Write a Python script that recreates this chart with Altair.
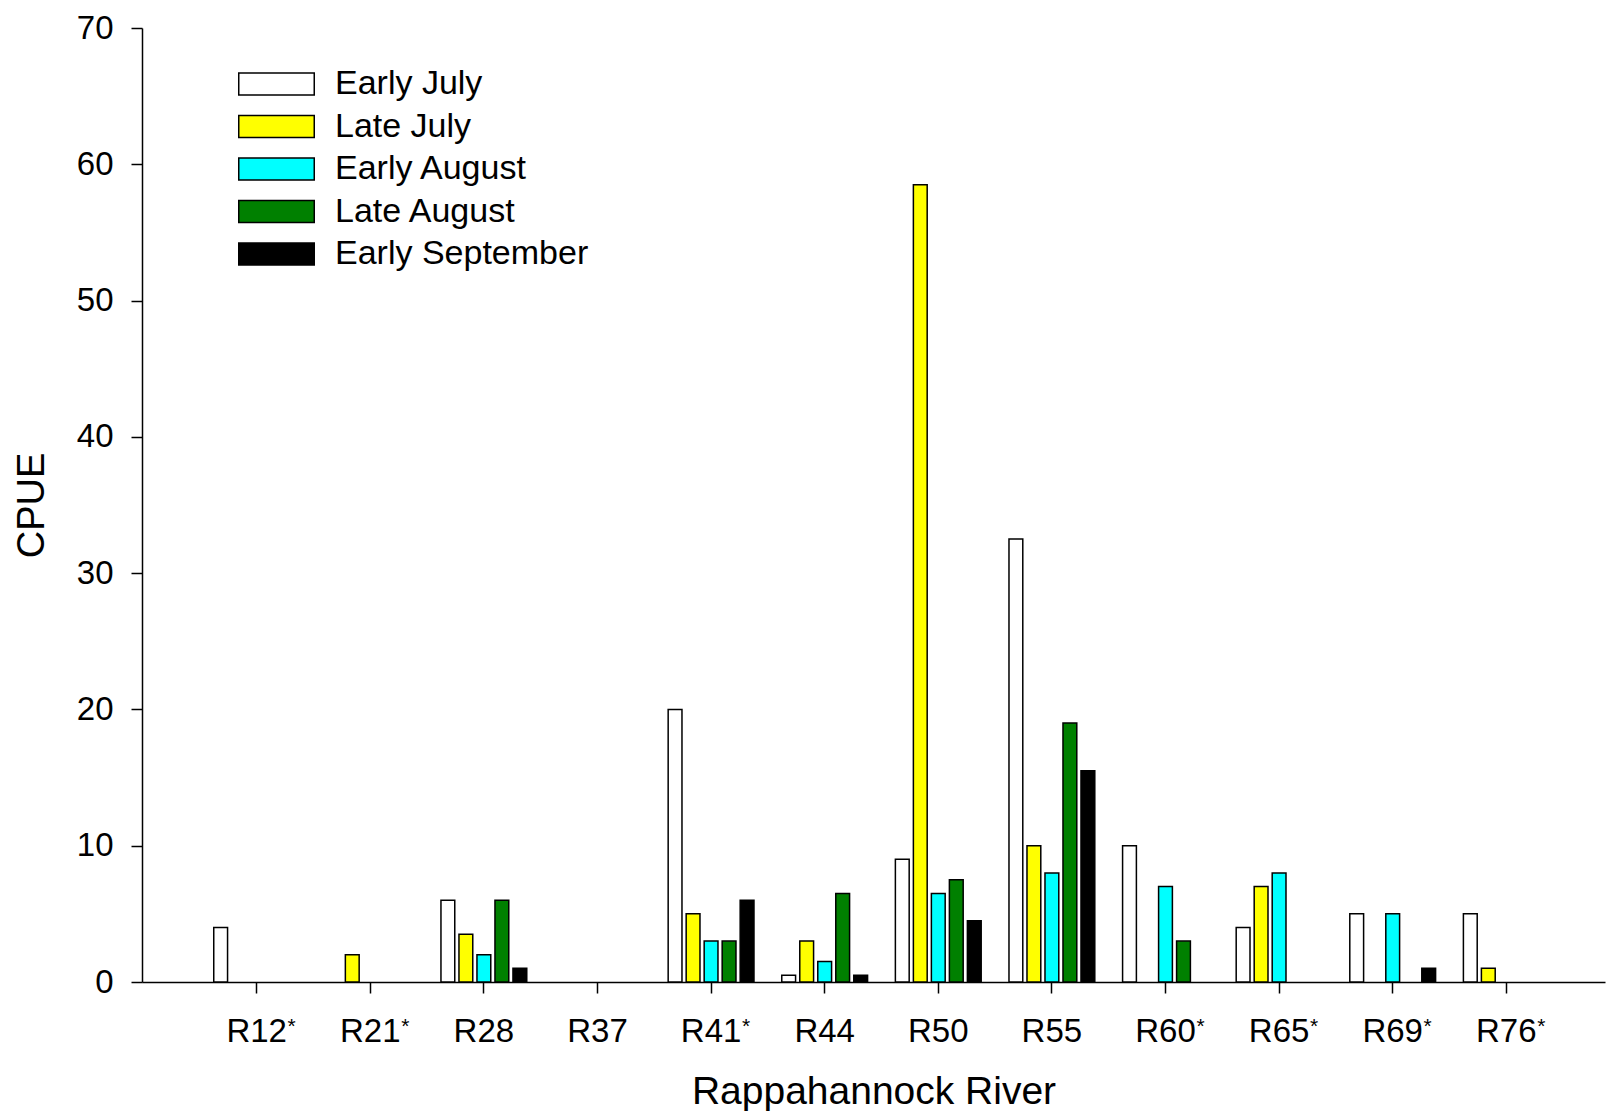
import altair as alt
import pandas as pd

categories = ["R12", "R21", "R28", "R37", "R41", "R44", "R50", "R55", "R60", "R65", "R69", "R76"]
starred = ["R12", "R21", "R41", "R60", "R65", "R69", "R76"]
series = ["Early July", "Late July", "Early August", "Late August", "Early September"]
colors = ["#FFFFFF", "#FFFF00", "#00FFFF", "#008000", "#000000"]

early_july = [4, 0, 6, 0, 20, 0.5, 9, 32.5, 10, 4, 5, 5]
late_july = [0, 2, 3.5, 0, 5, 3, 58.5, 10, 0, 7, 0, 1]
early_august = [0, 0, 2, 0, 3, 1.5, 6.5, 8, 7, 8, 5, 0]
late_august = [0, 0, 6, 0, 3, 6.5, 7.5, 19, 3, 0, 0, 0]
early_september = [0, 0, 1, 0, 6, 0.5, 4.5, 15.5, 0, 0, 1, 0]

values = [early_july, late_july, early_august, late_august, early_september]
rows = []
for s, vals in zip(series, values):
    for c, v in zip(categories, vals):
        if v > 0:
            rows.append({"cat": c, "series": s, "value": v})
df = pd.DataFrame(rows)
star_df = pd.DataFrame({"cat": starred, "mark": ["*"] * len(starred)})

W, H = 1463, 954
FONT = "Liberation Sans"

xscale = alt.Scale(domain=categories, paddingInner=0, paddingOuter=0.439, align=0.58, round=False)

bars = alt.Chart(df).mark_bar(stroke="black", strokeWidth=1.5, fillOpacity=1).encode(
    x=alt.X("cat:N", scale=xscale, sort=categories,
            axis=alt.Axis(title="Rappahannock River", labelAngle=0, labelFontSize=33,
                          labelPadding=22, tickSize=11, titleFontSize=39, titlePadding=24)),
    xOffset=alt.XOffset("series:N", sort=series,
                        scale=alt.Scale(domain=series, paddingInner=0.233, paddingOuter=0.772)),
    y=alt.Y("value:Q", scale=alt.Scale(domain=[0, 70], nice=False),
            axis=alt.Axis(title="CPUE", values=list(range(0, 71, 10)), labelFontSize=33,
                          labelPadding=18, tickSize=11, titleFontSize=38, titlePadding=25)),
    color=alt.Color("series:N", scale=alt.Scale(domain=series, range=colors),
                    legend=alt.Legend(title=None, orient="none", legendX=96, legendY=39,
                                      symbolType="M-1,-0.293L1,-0.293L1,0.293L-1,0.293Z",
                                      symbolSize=5700, symbolStrokeColor="black",
                                      symbolStrokeWidth=1.5, symbolOpacity=1,
                                      labelFontSize=34, labelFont=FONT, labelColor="black",
                                      labelLimit=0, labelOffset=20, clipHeight=34,
                                      rowPadding=8.5, padding=0)),
)

stars = alt.Chart(star_df).mark_text(fontSize=21, dx=35, baseline="top", align="center",
                                     color="black", font=FONT).encode(
    x=alt.X("cat:N", scale=xscale, sort=categories),
    y=alt.value(H + 34),
    text="mark:N",
)

chart = alt.layer(bars, stars).properties(
    width=W, height=H,
    autosize=alt.AutoSizeParams(type="none"),
    padding={"left": 134, "top": 20, "right": 4, "bottom": 129},
).configure(font=FONT).configure_view(stroke=None).configure_axis(
    grid=False, domainColor="black", domainWidth=1.5, tickColor="black", tickWidth=1.5,
    labelColor="black", titleColor="black", titleFontWeight="normal", labelFont=FONT,
    titleFont=FONT,
)

chart.save("out.html", embed_options={"renderer": "svg", "actions": False})
